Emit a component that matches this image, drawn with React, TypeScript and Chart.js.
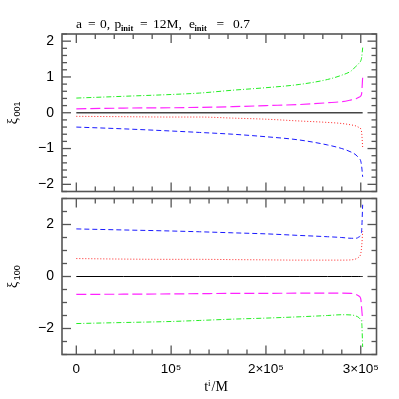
import React, { useEffect, useRef } from 'react';
import { Chart, registerables } from 'chart.js';
Chart.register(...registerables);

// time samples (t^i / M)
const T = [0, 50000, 100000, 130000, 165000, 200000, 235000, 265000, 280000, 290000, 295000, 298000, 300000, 301000, 302000];

// top panel: xi_001
const TOP_GREEN = [0.41, 0.46, 0.51, 0.55, 0.63, 0.70, 0.79, 0.93, 1.05, 1.17, 1.30, 1.38, 1.45, 1.55, 1.82];
const TOP_MAGENTA = [0.11, 0.13, 0.14, 0.15, 0.17, 0.20, 0.23, 0.28, 0.31, 0.36, 0.39, 0.43, 0.47, 0.55, 1.0];
const TOP_BLACK = [0, 0, 0, 0, 0, 0, 0, 0, 0, 0, 0, 0, 0, 0, 0];
const TOP_RED = [-0.10, -0.11, -0.12, -0.12, -0.15, -0.18, -0.23, -0.27, -0.30, -0.34, -0.37, -0.41, -0.45, -0.57, -0.97];
const TOP_BLUE = [-0.40, -0.45, -0.51, -0.55, -0.60, -0.67, -0.76, -0.90, -1.00, -1.10, -1.18, -1.27, -1.35, -1.51, -1.79];

// bottom panel: xi_100
const BOT_BLUE = [1.83, 1.79, 1.75, 1.72, 1.68, 1.64, 1.58, 1.53, 1.50, 1.47, 1.47, 1.52, 1.60, 1.80, 2.76];
const BOT_RED = [0.69, 0.67, 0.66, 0.66, 0.65, 0.64, 0.63, 0.63, 0.63, 0.64, 0.68, 0.75, 0.88, 1.17, 1.74];
const BOT_BLACK = [0, 0, 0, 0, 0, 0, 0, 0, 0, 0, 0, 0, 0, 0, 0];
const BOT_MAGENTA = [-0.69, -0.68, -0.67, -0.66, -0.65, -0.65, -0.64, -0.64, -0.64, -0.65, -0.69, -0.75, -0.86, -1.25, -1.69];
const BOT_GREEN = [-1.81, -1.77, -1.73, -1.69, -1.64, -1.60, -1.55, -1.50, -1.47, -1.48, -1.52, -1.58, -1.66, -1.76, -2.71];

const X_TICKS = [0, 100000, 200000, 300000];
const X_TICK_LABELS = ['0', '10\u2075', '2\u00d710\u2075', '3\u00d710\u2075'];
const TOP_Y_TICKS = [-2, -1, 0, 1, 2];
const BOT_Y_TICKS = [-2, 0, 2];

// title pieces: [text, isSubscript, x]
const TITLE_PARTS: [string, boolean, number][] = [
  ['a', false, 76], ['=', false, 88], ['0,', false, 100], ['p', false, 114.5], ['init', true, 121],
  ['=', false, 140], ['12M,', false, 153], ['e', false, 189], ['init', true, 194.5], ['=', false, 216.5], ['0.7', false, 233],
];

const SANS = '"Liberation Sans", Arial, Helvetica, sans-serif';
const SERIF = '"Liberation Serif", "Times New Roman", serif';

const minusLabel = (v: number) => (v < 0 ? '\u2212' + Math.abs(v) : String(v));

const frameTicks = {
  id: 'frameTicks',
  afterDatasetsDraw(chart: any, _args: any, opts: any) {
    const { ctx, chartArea: a, scales } = chart;
    const xs = scales.x, ys = scales.y;
    ctx.save();
    ctx.strokeStyle = '#555';
    ctx.lineWidth = 1.6;
    ctx.strokeRect(a.left, a.top, a.right - a.left, a.bottom - a.top);
    ctx.lineWidth = 1.3;
    const seg = (x1: number, y1: number, x2: number, y2: number) => {
      ctx.beginPath(); ctx.moveTo(x1, y1); ctx.lineTo(x2, y2); ctx.stroke();
    };
    const isMajor = (v: number, m: number) => Math.abs(v / m - Math.round(v / m)) < 1e-6;
    for (let k = Math.ceil(xs.min / opts.xMinor); k * opts.xMinor <= xs.max; k++) {
      const v = k * opts.xMinor;
      if (v < 0) continue;
      const len = isMajor(v, opts.xMajor) ? 9 : 5;
      const px = xs.getPixelForValue(v);
      seg(px, a.bottom, px, a.bottom - len);
      seg(px, a.top, px, a.top + len);
    }
    for (let k = Math.ceil(ys.min / opts.yMinor - 1e-9); k * opts.yMinor <= ys.max + 1e-9; k++) {
      const v = k * opts.yMinor;
      const len = isMajor(v, opts.yMajor) ? 9 : 5;
      const py = ys.getPixelForValue(v);
      seg(a.left, py, a.left + len, py);
      seg(a.right, py, a.right - len, py);
    }
    ctx.restore();
  },
};

const decor = {
  id: 'decor',
  afterDraw(chart: any, _args: any, opts: any) {
    const { ctx, chartArea: a } = chart;
    ctx.save();
    ctx.fillStyle = '#000';
    ctx.textBaseline = 'alphabetic';
    const cy = (a.top + a.bottom) / 2;
    ctx.translate(17, cy);
    ctx.rotate(-Math.PI / 2);
    ctx.font = `14px ${SERIF}`;
    const wXi = ctx.measureText('\u03be').width;
    ctx.font = `9px ${SANS}`;
    const wSub = ctx.measureText(opts.ysub).width;
    const total = wXi + 1.5 + wSub;
    const x0 = -total / 2;
    ctx.font = `14px ${SERIF}`;
    ctx.textAlign = 'left';
    ctx.fillText('\u03be', x0, 0);
    ctx.font = `9px ${SANS}`;
    ctx.fillText(opts.ysub, x0 + wXi + 1.5, 3);
    ctx.restore();

    if (opts.title) {
      ctx.save();
      ctx.fillStyle = '#000';
      ctx.textAlign = 'left';
      ctx.textBaseline = 'alphabetic';
      const base = 28;
      for (const [txt, sub, x] of TITLE_PARTS) {
        ctx.font = sub ? `bold 8.5px ${SERIF}` : `13.5px ${SERIF}`;
        ctx.fillText(txt, x, sub ? base + 2.5 : base);
      }
      ctx.restore();
    }

    if (opts.xlabel) {
      ctx.save();
      ctx.fillStyle = '#000';
      ctx.textAlign = 'left';
      ctx.textBaseline = 'alphabetic';
      const base = a.bottom + 36;
      ctx.font = `14px ${SERIF}`;
      const wt = ctx.measureText('t').width;
      ctx.font = `9px ${SERIF}`;
      const wi = ctx.measureText('i').width;
      ctx.font = `14px ${SERIF}`;
      const wm = ctx.measureText('/M').width;
      let x = 216 - (wt + wi + 1 + wm) / 2;
      ctx.fillText('t', x, base);
      x += wt;
      ctx.font = `9px ${SERIF}`;
      ctx.fillText('i', x, base - 5);
      x += wi + 1;
      ctx.font = `14px ${SERIF}`;
      ctx.fillText('/M', x, base);
      ctx.restore();
    }
  },
};

function ds(label: string, data: number[], color: string, dash: number[], width = 1) {
  return {
    label,
    data: T.map((t, i) => ({ x: t, y: data[i] })),
    borderColor: color,
    borderWidth: width,
    borderDash: dash,
    pointRadius: 0,
    fill: false,
    cubicInterpolationMode: 'monotone' as const,
  };
}

function makeConfig(panel: 'top' | 'bottom') {
  const isTop = panel === 'top';
  const datasets = isTop
    ? [
        ds('green', TOP_GREEN, '#22ee22', [5, 2, 1, 2]),
        ds('magenta', TOP_MAGENTA, '#ff22ff', [10, 4], 1.15),
        ds('black', TOP_BLACK, '#444', [], 1.4),
        ds('red', TOP_RED, '#ff2020', [1, 2]),
        ds('blue', TOP_BLUE, '#1a1aff', [5, 3]),
      ]
    : [
        ds('blue', BOT_BLUE, '#1a1aff', [5, 3]),
        ds('red', BOT_RED, '#ff2020', [1, 2]),
        ds('black', BOT_BLACK, '#000', [], 1),
        ds('magenta', BOT_MAGENTA, '#ff22ff', [10, 4], 1.15),
        ds('green', BOT_GREEN, '#22ee22', [5, 2, 1, 2]),
      ];
  const yTicks = isTop ? TOP_Y_TICKS : BOT_Y_TICKS;
  return {
    type: 'line' as const,
    data: { datasets },
    plugins: [frameTicks, decor],
    options: {
      responsive: false,
      animation: false as const,
      devicePixelRatio: 1,
      layout: {
        padding: isTop
          ? { left: 0, right: 22.5, top: 34, bottom: 4.5 }
          : { left: 0, right: 22.5, top: 2.5, bottom: 0 },
      },
      plugins: {
        legend: { display: false },
        tooltip: { enabled: false },
        title: { display: false },
        frameTicks: isTop
          ? { xMinor: 20000, xMajor: 100000, yMinor: 0.2, yMajor: 1 }
          : { xMinor: 20000, xMajor: 100000, yMinor: 0.5, yMajor: 2 },
        decor: { ysub: isTop ? '001' : '100', title: isTop, xlabel: !isTop },
      },
      scales: {
        x: {
          type: 'linear' as const,
          min: -15100,
          max: 316600,
          grid: { display: false, drawTicks: false },
          border: { display: false },
          afterBuildTicks: (s: any) => { s.ticks = X_TICKS.map((v) => ({ value: v })); },
          afterFit: (s: any) => {
            s.height = isTop ? 0 : 44.5;
            s.paddingLeft = 0; s.paddingRight = 0; s.paddingTop = 0; s.paddingBottom = 0;
          },
          ticks: {
            display: !isTop,
            autoSkip: false,
            maxRotation: 0,
            padding: 7,
            color: '#000',
            font: { family: SANS, size: 13.5 },
            callback: (v: any) => {
              const i = X_TICKS.indexOf(Number(v));
              return i >= 0 ? X_TICK_LABELS[i] : '';
            },
          },
        },
        y: {
          type: 'linear' as const,
          min: isTop ? -2.2 : -3,
          max: isTop ? 2.2 : 3,
          grid: { display: false, drawTicks: false },
          border: { display: false },
          afterBuildTicks: (s: any) => { s.ticks = yTicks.map((v) => ({ value: v })); },
          afterFit: (s: any) => {
            s.width = 62;
            s.paddingLeft = 0; s.paddingRight = 0; s.paddingTop = 0; s.paddingBottom = 0;
          },
          ticks: {
            padding: 8,
            color: '#000',
            font: { family: SANS, size: 14 },
            callback: (v: any) => minusLabel(Number(v)),
          },
        },
      },
    },
  };
}

function Panel({ panel, top, height }: { panel: 'top' | 'bottom'; top: number; height: number }) {
  const ref = useRef<HTMLCanvasElement | null>(null);
  useEffect(() => {
    if (!ref.current) return;
    const chart = new Chart(ref.current, makeConfig(panel) as any);
    return () => chart.destroy();
  }, [panel]);
  return (
    <canvas
      ref={ref}
      width={399}
      height={height}
      style={{ position: 'absolute', left: 0, top, width: 399, height }}
    />
  );
}

export default function App() {
  return (
    <div style={{ position: 'fixed', left: 0, top: 0, width: 399, height: 399, background: '#fff' }}>
      <Panel panel="top" top={0} height={196} />
      <Panel panel="bottom" top={196} height={203} />
    </div>
  );
}
